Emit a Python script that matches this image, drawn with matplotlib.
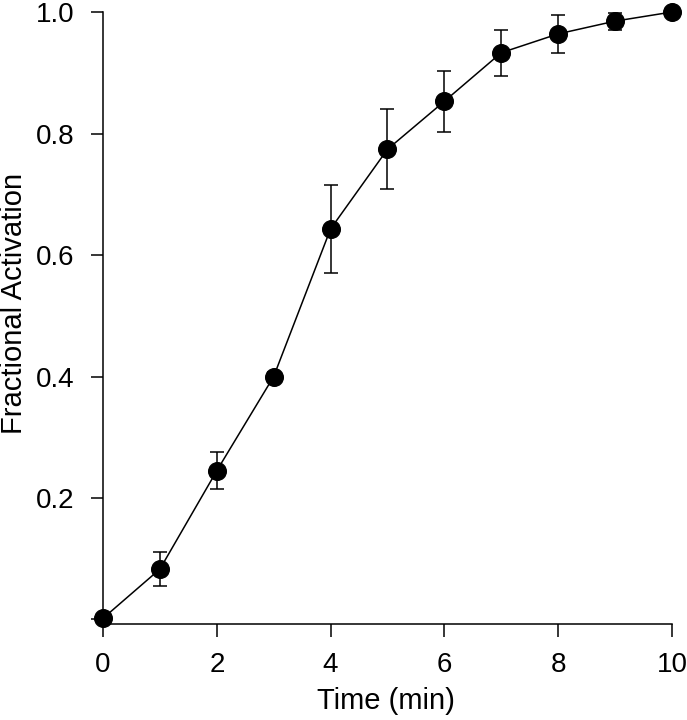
import matplotlib
matplotlib.use("Agg")
import matplotlib.pyplot as plt

time_min = [0, 1, 2, 3, 4, 5, 6, 7, 8, 9, 10]
fractional_activation = [0.002, 0.083, 0.245, 0.400, 0.643, 0.774, 0.853, 0.933, 0.964, 0.985, 1.0]
error = [0.0, 0.028, 0.030, 0.008, 0.072, 0.066, 0.050, 0.038, 0.031, 0.014, 0.0]

xticks = [0, 2, 4, 6, 8, 10]
yticks = [0.0, 0.2, 0.4, 0.6, 0.8, 1.0]
ytick_labels = ["", "0.2", "0.4", "0.6", "0.8", "1.0"]

plt.rcParams['font.family'] = ['Liberation Sans', 'DejaVu Sans']

fig = plt.figure(figsize=(6.87, 7.2), dpi=100)
ax = fig.add_axes([0.150, 0.1396, 0.828, 0.8437])

ax.errorbar(time_min, fractional_activation, yerr=error, color='black',
            marker='o', markersize=12.7, linewidth=1.1, elinewidth=1.1,
            capsize=5, capthick=1.1, clip_on=False, zorder=3)

ax.set_xlim(0, 10)
ax.set_ylim(0, 1.0)
ax.set_xticks(xticks)
ax.set_yticks(yticks)
ax.set_yticklabels(ytick_labels)

for s in ['top', 'right']:
    ax.spines[s].set_visible(False)
ax.spines['bottom'].set_position(('outward', 3))
for s in ['left', 'bottom']:
    ax.spines[s].set_linewidth(1.1)

ax.tick_params(axis='both', direction='out', length=9, width=1.1,
               labelsize=20, colors='black')
ax.tick_params(axis='x', pad=11.3)
ax.tick_params(axis='y', pad=11.5)

ax.set_xlabel("Time (min)", fontsize=21)
ax.set_ylabel("Fractional Activation", fontsize=21)
ax.xaxis.set_label_coords(0.498, -0.111)
ax.yaxis.set_label_coords(-0.132, 0.521)

fig.savefig("out.png", dpi=100)
